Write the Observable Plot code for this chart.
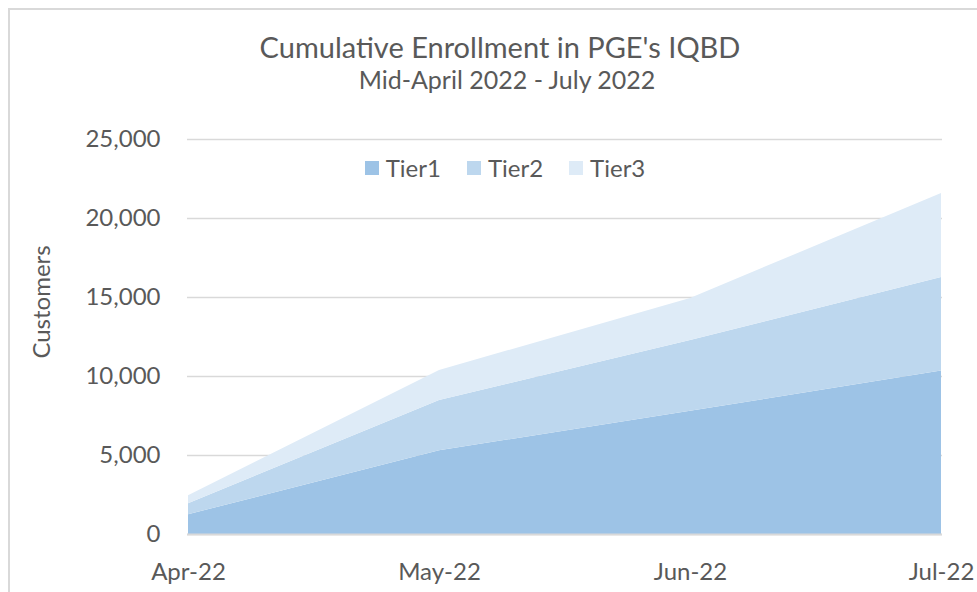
<!DOCTYPE html>
<html>
<head>
<meta charset="utf-8">
<script src="https://cdn.jsdelivr.net/npm/d3@7"></script>
<script src="https://cdn.jsdelivr.net/npm/@observablehq/plot@0.6"></script>
<style>
  html, body { margin: 0; padding: 0; background: #fff; }
  #wrap { position: relative; width: 977px; height: 592px; overflow: hidden; font-family: Lato, "Open Sans", sans-serif; color: #595959; }
  #border { position: absolute; left: 8px; top: 8px; width: 1000px; height: 700px; border-left: 2px solid #d9d9d9; border-top: 2px solid #d9d9d9; }
  .title { position: absolute; left: 0; width: 1000px; text-align: center; line-height: 1; white-space: nowrap; }
  #t1 { top: 32px; font-size: 29px; }
  #t2 { top: 67px; font-size: 25px; left: 7px; }
  #chart { position: absolute; left: 0; top: 100px; }
  #legend { position: absolute; top: 154px; left: 0; width: 1010px; display: flex; justify-content: center; gap: 26px; font-size: 24px; line-height: 28px; }
  #legend span.item { display: flex; align-items: center; }
  #legend span.sw { display: inline-block; width: 14px; height: 14px; margin-right: 7px; }
</style>
</head>
<body>
<div id="wrap">
  <div id="border"></div>
  <div id="t1" class="title">Cumulative Enrollment in PGE's IQBD</div>
  <div id="t2" class="title">Mid-April 2022 - July 2022</div>
  <div id="chart"></div>
  <div id="legend"></div>
</div>
<script>
const months = ["Apr-22", "May-22", "Jun-22", "Jul-22"];
const tiers = ["Tier1", "Tier2", "Tier3"];
const tier1 = [1250, 5300, 7800, 10350];
const tier2 = [700, 3180, 4480, 5920];
const tier3 = [510, 1900, 2660, 5310];
const colors = ["#9dc3e6", "#bdd7ee", "#deebf7"];
const yTicks = [0, 5000, 10000, 15000, 20000, 25000];

const series = [tier1, tier2, tier3];
const data = [];
tiers.forEach((t, i) => months.forEach((m, j) => data.push({tier: t, month: m, value: series[i][j]})));

const plot = Plot.plot({
  width: 977,
  height: 492,
  marginLeft: 187,
  marginRight: 35,
  marginTop: 39,
  marginBottom: 58,
  style: {fontFamily: "Lato, 'Open Sans', sans-serif", color: "#595959", background: "transparent"},
  x: {type: "point", domain: months, padding: 0},
  y: {domain: [0, 25000]},
  color: {domain: tiers, range: colors},
  marks: [
    Plot.gridY(yTicks, {stroke: "#d9d9d9", strokeOpacity: 1, strokeWidth: 1.5}),
    Plot.areaY(data, {x: "month", y: "value", fill: "tier", z: "tier"}),
    Plot.ruleY([0], {stroke: "#d9d9d9", strokeWidth: 2}),
    Plot.axisY(yTicks, {tickSize: 0, tickPadding: 27, tickFormat: d3.format(","), fontSize: 24, label: null}),
    Plot.axisX(months, {tickSize: 0, tickPadding: 28, fontSize: 24, label: null}),
    Plot.text(["Customers"], {frameAnchor: "left", textAnchor: "middle", dx: -145, dy: -35, rotate: -90, fontSize: 24, fill: "#595959"})
  ]
});
document.getElementById("chart").appendChild(plot);

const legend = document.getElementById("legend");
tiers.forEach((t, i) => {
  const item = document.createElement("span");
  item.className = "item";
  const sw = document.createElement("span");
  sw.className = "sw";
  sw.style.background = colors[i];
  item.appendChild(sw);
  item.appendChild(document.createTextNode(t));
  legend.appendChild(item);
});
</script>
</body>
</html>
